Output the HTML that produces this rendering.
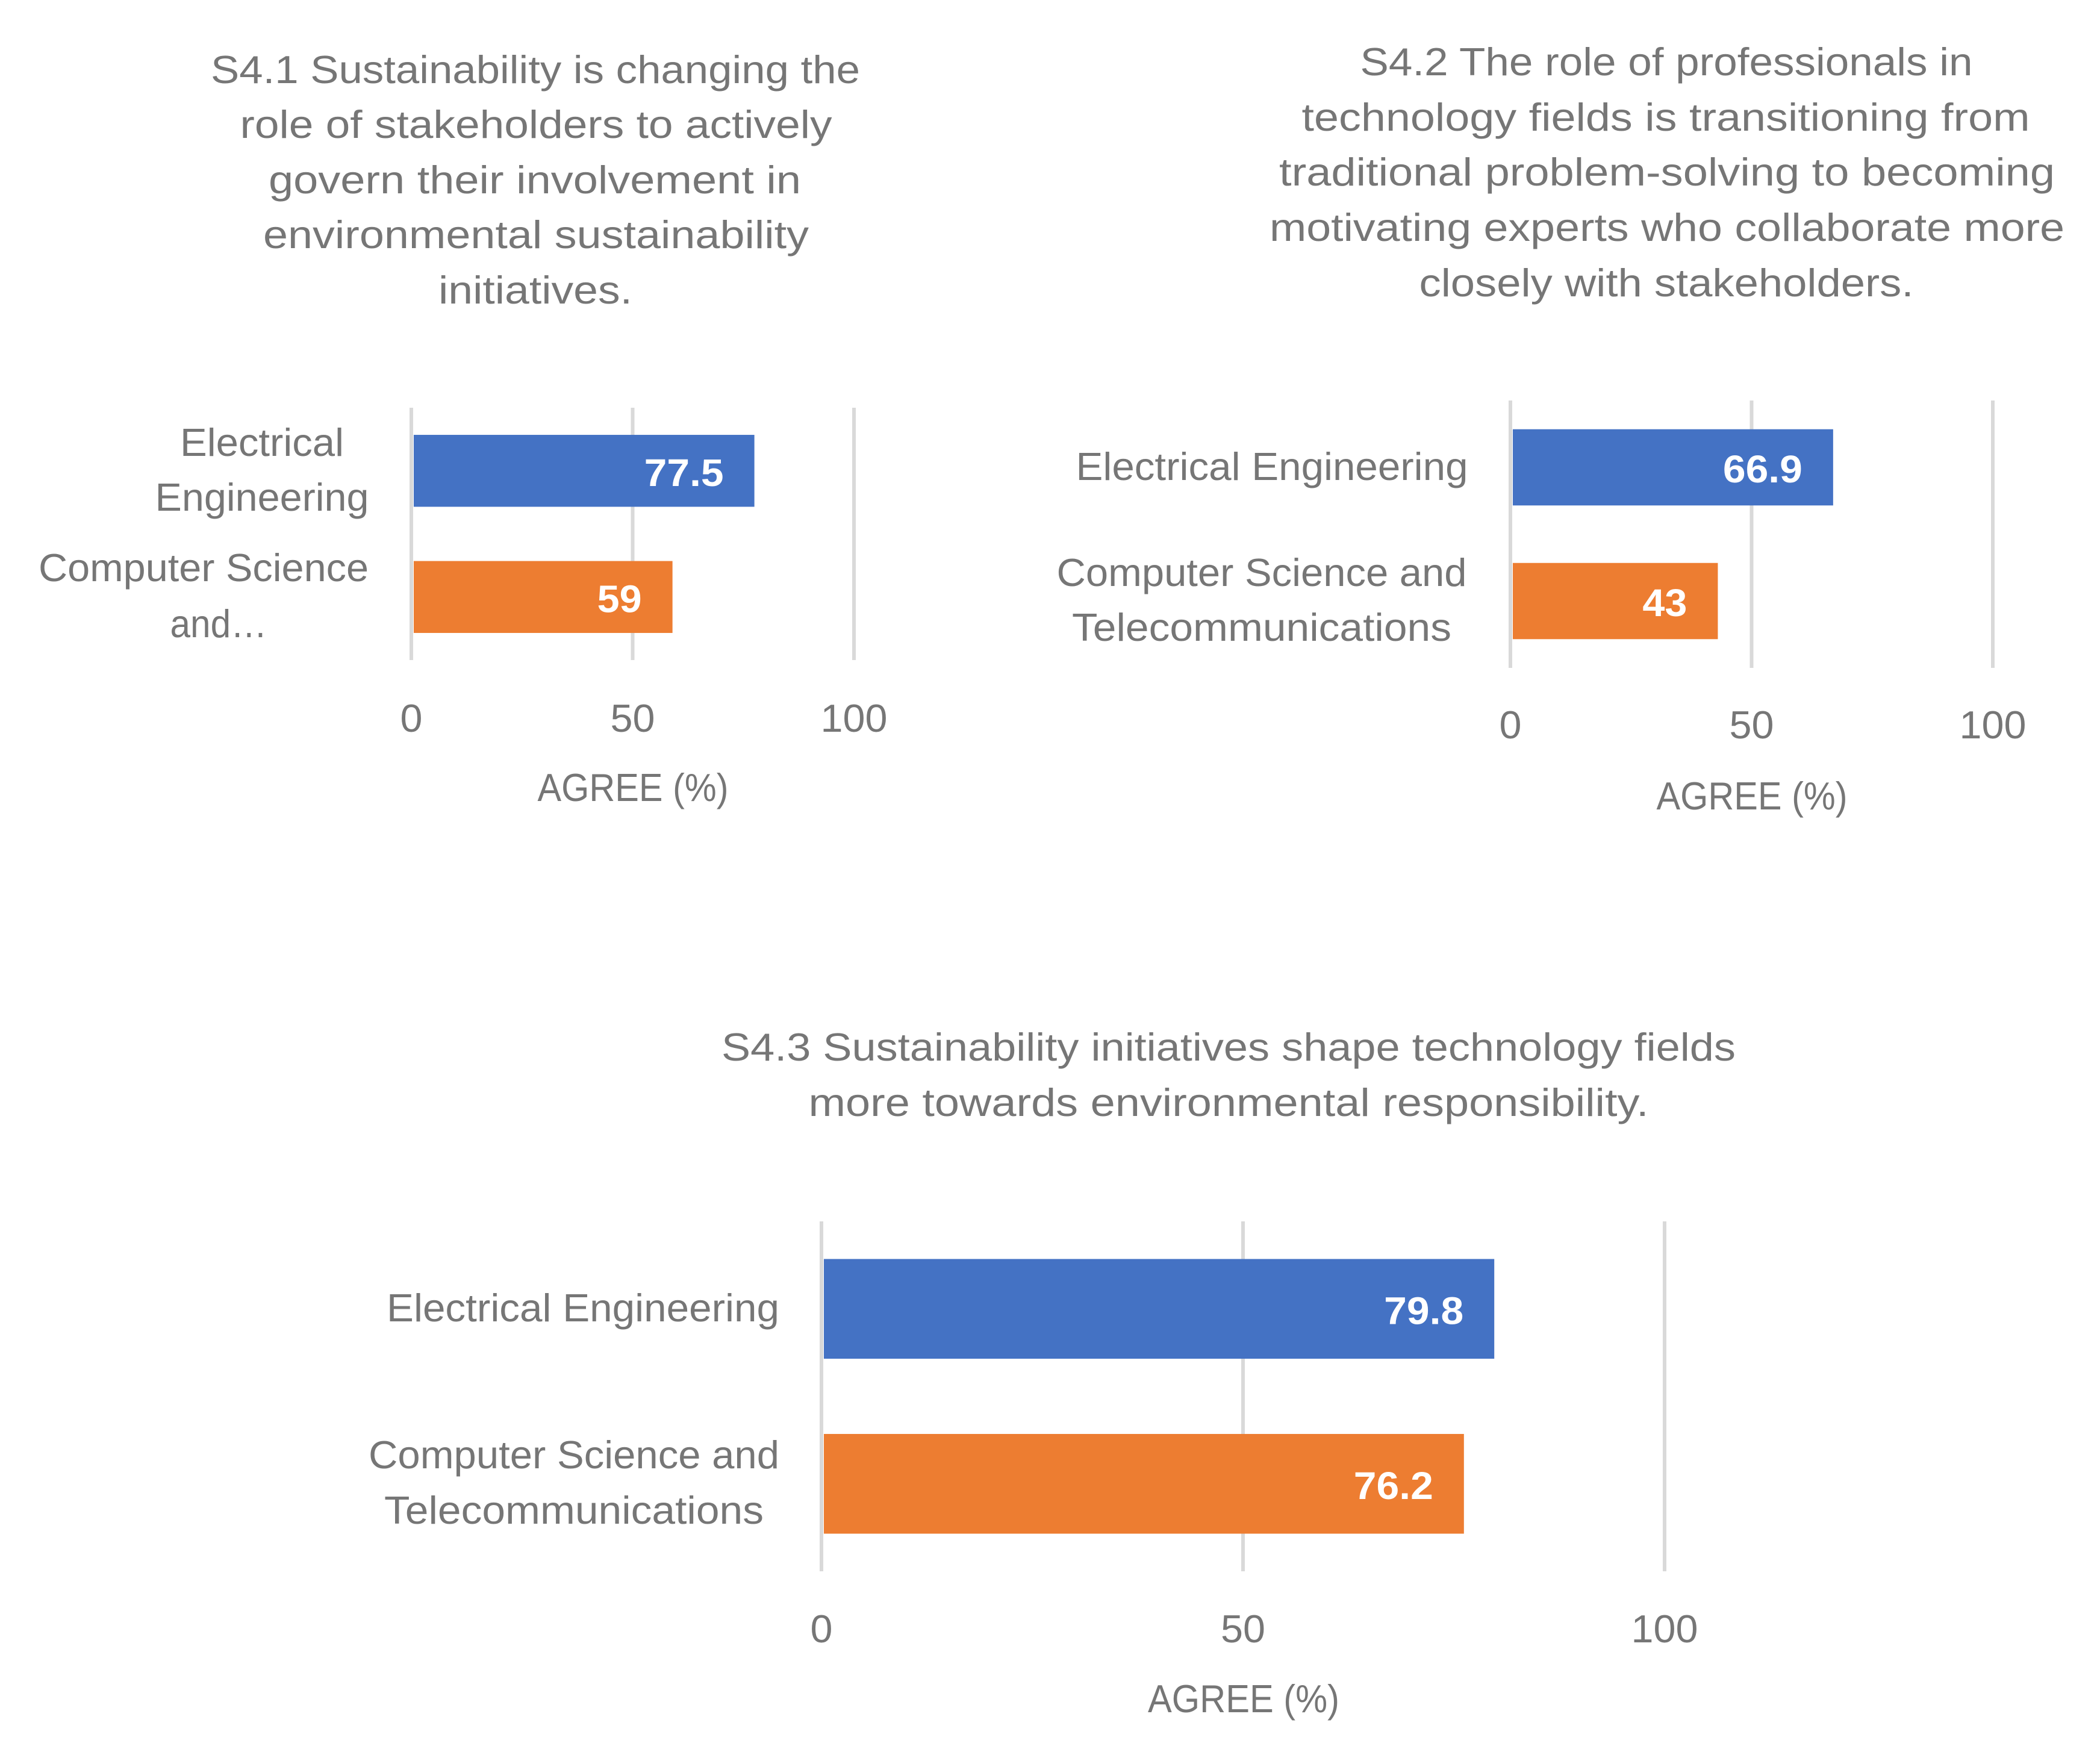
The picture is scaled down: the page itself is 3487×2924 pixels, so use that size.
<!DOCTYPE html>
<html lang="en">
<head>
<meta charset="utf-8">
<title>S4 Agreement Charts</title>
<style>
html,body{margin:0;padding:0;background:#fff;}
svg{display:block;}
text{font-family:"Liberation Sans",sans-serif;fill:#767676;font-size:65px;}
.t{text-anchor:middle;font-size:65px;}
</style>
</head>
<body>
<svg id="figure" xmlns="http://www.w3.org/2000/svg" width="3487" height="2924" viewBox="0 0 3487 2924">
<rect width="3487" height="2924" fill="#ffffff"/>
<g>
<text class="t" x="889" y="138" textLength="1078" lengthAdjust="spacingAndGlyphs">S4.1 Sustainability is changing the</text>
<text class="t" x="890" y="229" textLength="983" lengthAdjust="spacingAndGlyphs">role of stakeholders to actively</text>
<text class="t" x="888" y="321" textLength="884" lengthAdjust="spacingAndGlyphs">govern their involvement in</text>
<text class="t" x="890" y="412" textLength="906" lengthAdjust="spacingAndGlyphs">environmental sustainability</text>
<text class="t" x="889" y="504" textLength="322" lengthAdjust="spacingAndGlyphs">initiatives.</text>
</g>
<g>
<text class="t" x="2767" y="125" textLength="1017" lengthAdjust="spacingAndGlyphs">S4.2 The role of professionals in</text>
<text class="t" x="2766" y="217" textLength="1209" lengthAdjust="spacingAndGlyphs">technology fields is transitioning from</text>
<text class="t" x="2768" y="308" textLength="1288" lengthAdjust="spacingAndGlyphs">traditional problem-solving to becoming</text>
<text class="t" x="2768" y="400" textLength="1320" lengthAdjust="spacingAndGlyphs">motivating experts who collaborate more</text>
<text class="t" x="2767" y="492" textLength="821" lengthAdjust="spacingAndGlyphs">closely with stakeholders.</text>
</g>
<g>
<text class="t" x="2040" y="1761" textLength="1684" lengthAdjust="spacingAndGlyphs">S4.3 Sustainability initiatives shape technology fields</text>
<text class="t" x="2040" y="1853" textLength="1395" lengthAdjust="spacingAndGlyphs">more towards environmental responsibility.</text>
</g>
<g>
<text class="t" x="435" y="757" textLength="272" lengthAdjust="spacingAndGlyphs">Electrical</text>
<text class="t" x="435" y="848" textLength="355" lengthAdjust="spacingAndGlyphs">Engineering</text>
<text class="t" x="338" y="965" textLength="548" lengthAdjust="spacingAndGlyphs">Computer Science</text>
<text class="t" x="363" y="1058" textLength="161" lengthAdjust="spacingAndGlyphs">and…</text>
</g>
<g>
<text class="t" x="2112" y="797" textLength="651" lengthAdjust="spacingAndGlyphs">Electrical Engineering</text>
<text class="t" x="2095" y="973" textLength="681" lengthAdjust="spacingAndGlyphs">Computer Science and</text>
<text class="t" x="2095" y="1064" textLength="630" lengthAdjust="spacingAndGlyphs">Telecommunications</text>
</g>
<g>
<text class="t" x="968" y="2194" textLength="652" lengthAdjust="spacingAndGlyphs">Electrical Engineering</text>
<text class="t" x="953" y="2438" textLength="682" lengthAdjust="spacingAndGlyphs">Computer Science and</text>
<text class="t" x="953" y="2530" textLength="630" lengthAdjust="spacingAndGlyphs">Telecommunications</text>
</g>
<text class="t" x="1051" y="1330" textLength="317" lengthAdjust="spacingAndGlyphs">AGREE (%)</text>
<text class="t" x="2909" y="1344" textLength="317" lengthAdjust="spacingAndGlyphs">AGREE (%)</text>
<text class="t" x="2065" y="2843" textLength="318" lengthAdjust="spacingAndGlyphs">AGREE (%)</text>
<g id="plots"></g>
</svg>
<script>
const categories = ["Electrical Engineering", "Computer Science and Telecommunications"];
const tickValues = [0, 50, 100];
const valuesS41 = [77.5, 59];
const valuesS42 = [66.9, 43];
const valuesS43 = [79.8, 76.2];
const seriesColors = ["#4472c4", "#ed7d31"];

const SVG_NS = "http://www.w3.org/2000/svg";
const plotsRoot = document.getElementById("plots");

function textWidth(s) {
  return s.length * 37 - (s.indexOf(".") >= 0 ? 16 : 0);
}

function drawPlot(id, values, frame) {
  const xScale = function (v) {
    return frame.x0 + (v / 100) * (frame.x100 - frame.x0);
  };
  const bandHeight = (frame.bottom - frame.top) / categories.length;
  const group = document.createElementNS(SVG_NS, "g");
  
  
  plotsRoot.appendChild(group);

  tickValues.forEach(function (t) {
    const grid = document.createElementNS(SVG_NS, "line");
    
    
    grid.setAttribute("x1", xScale(t));
    grid.setAttribute("x2", xScale(t));
    grid.setAttribute("y1", frame.top);
    grid.setAttribute("y2", frame.bottom);
    grid.setAttribute("stroke", "#d9d9d9");
    grid.setAttribute("stroke-width", 6);
    group.appendChild(grid);

    const tick = document.createElementNS(SVG_NS, "text");
    
    
    tick.setAttribute("x", xScale(t));
    tick.setAttribute("y", frame.tickY);
    tick.setAttribute("text-anchor", "middle");
    tick.setAttribute("textLength", textWidth(String(t)));
    tick.setAttribute("lengthAdjust", "spacingAndGlyphs");
    tick.textContent = String(t);
    group.appendChild(tick);
  });

  values.forEach(function (v, i) {
    const barHeight = bandHeight * 0.57;
    const center = frame.top + bandHeight * (i + 0.5);
    const barLeft = xScale(0) + 4;
    const bar = document.createElementNS(SVG_NS, "rect");
    
    
    bar.setAttribute("x", barLeft);
    bar.setAttribute("y", center - barHeight / 2);
    bar.setAttribute("width", xScale(v) - barLeft);
    bar.setAttribute("height", barHeight);
    bar.setAttribute("fill", seriesColors[i]);
    group.appendChild(bar);

    const label = document.createElementNS(SVG_NS, "text");
    
    
    label.setAttribute("x", xScale(v) - 51);
    label.setAttribute("y", center + 25);
    label.setAttribute("text-anchor", "end");
    label.setAttribute("textLength", textWidth(String(v)));
    label.setAttribute("lengthAdjust", "spacingAndGlyphs");
    label.setAttribute("style", "fill:#ffffff;font-weight:bold;font-size:64px");
    label.textContent = String(v);
    group.appendChild(label);
  });
}

drawPlot("s4-1", valuesS41, { x0: 683, x100: 1418, top: 677, bottom: 1096, tickY: 1215 });
drawPlot("s4-2", valuesS42, { x0: 2508, x100: 3309, top: 665, bottom: 1109, tickY: 1226 });
drawPlot("s4-3", valuesS43, { x0: 1364, x100: 2764, top: 2028, bottom: 2609, tickY: 2727 });
</script>
</body>
</html>
